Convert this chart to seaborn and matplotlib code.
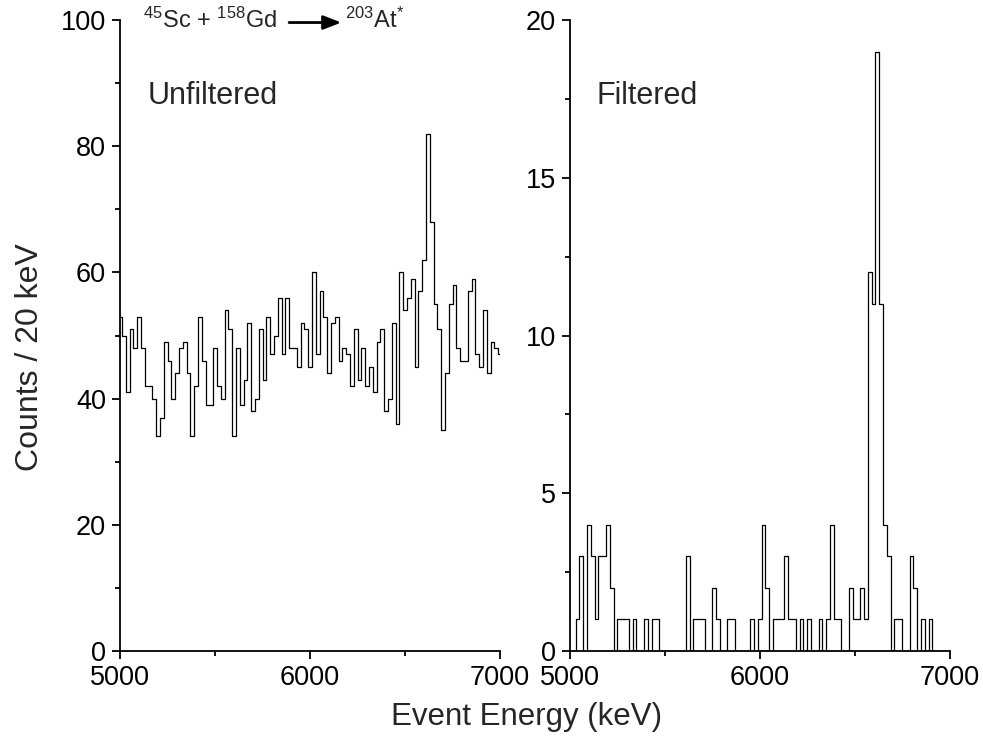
import numpy as np
import matplotlib
matplotlib.use("Agg")
import matplotlib.pyplot as plt
import seaborn as sns

sns.set_theme(style="ticks")
plt.rcParams['font.family'] = ['Liberation Sans', 'DejaVu Sans']
plt.rcParams['mathtext.fontset'] = 'custom'
plt.rcParams['mathtext.rm'] = 'Liberation Sans'
plt.rcParams['mathtext.it'] = 'Liberation Sans:italic'

# bin centres (20 keV bins)
energy = np.arange(5000, 7001, 20)

# unfiltered spectrum, counts per bin
unfiltered = [53, 50, 41, 51, 48, 53, 48, 42, 42, 40,
              34, 37, 49, 46, 40, 44, 48, 49, 44, 34,
              42, 53, 46, 39, 39, 48, 42, 40, 54, 51,
              34, 48, 39, 43, 52, 38, 40, 51, 43, 53,
              47, 50, 56, 47, 56, 48, 48, 45, 52, 51,
              45, 60, 47, 57, 53, 44, 52, 53, 46, 48,
              47, 42, 51, 43, 48, 42, 45, 41, 49, 51,
              38, 40, 52, 36, 60, 54, 56, 59, 45, 57,
              62, 82, 68, 55, 51, 35, 44, 55, 58, 48,
              46, 46, 57, 59, 47, 45, 54, 44, 49, 48,
              47]

# filtered spectrum, counts per bin
filtered = [0, 0, 1, 3, 0, 4, 3, 1, 3, 3,
            4, 2, 0, 1, 1, 1, 0, 1, 0, 0,
            1, 0, 1, 1, 0, 0, 0, 0, 0, 0,
            0, 3, 0, 1, 1, 1, 0, 0, 2, 1,
            0, 0, 1, 1, 0, 0, 0, 0, 1, 0,
            1, 4, 2, 0, 1, 1, 1, 3, 1, 1,
            0, 1, 0, 1, 0, 0, 1, 0, 1, 4,
            1, 1, 0, 0, 2, 1, 1, 2, 1, 12,
            11, 19, 11, 4, 3, 0, 1, 1, 0, 0,
            3, 2, 0, 1, 0, 1, 0, 0, 0, 0,
            0]

fig = plt.figure(figsize=(9.83, 7.44), dpi=100)
ax1 = fig.add_axes([120/983, 93/744, 380/983, 631/744])
ax2 = fig.add_axes([570/983, 93/744, 379.5/983, 631/744])

for ax, counts, ymax, major, minor in [(ax1, unfiltered, 100, 20, 10),
                                       (ax2, filtered, 20, 5, 2.5)]:
    sns.lineplot(x=energy, y=counts, ax=ax, color='black', linewidth=0.9,
                 drawstyle='steps-mid', legend=False)
    ax.set_xlim(5000, 7000)
    ax.set_ylim(0, ymax)
    ax.set_xticks([5000, 6000, 7000])
    ax.set_xticks([5500, 6500], minor=True)
    ax.set_yticks(np.arange(0, ymax + 1, major))
    ax.set_yticks(np.arange(minor, ymax, major), minor=True)
    for s in ['top', 'right']:
        ax.spines[s].set_visible(False)
    for s in ['left', 'bottom']:
        ax.spines[s].set_linewidth(1.3)
        ax.spines[s].set_color('black')
    ax.tick_params(which='major', direction='out', length=6, width=1.3,
                   labelsize=19.5, colors='black', pad=4)
    ax.tick_params(which='minor', direction='out', length=3.5, width=1.3,
                   colors='black')
    ax.set_xlabel('')
    ax.set_ylabel('')
    ax.set_facecolor('white')

ax1.text(5147, 88, 'Unfiltered', fontsize=22, va='center', ha='left')
ax2.text(5142, 17.6, 'Filtered', fontsize=22, va='center', ha='left')

# reaction label
ax1.text(5121, 98.7, r'$^{45}$Sc + $^{158}$Gd', fontsize=17, va='baseline',
         ha='left', clip_on=False)
ax1.annotate('', xy=(6165, 99.6), xytext=(5890, 99.6),
             arrowprops=dict(arrowstyle='-|>,head_length=0.9,head_width=0.35',
                             color='black', lw=2, shrinkA=0, shrinkB=0),
             annotation_clip=False)
ax1.text(6185, 98.7, r'$^{203}$At$^{*}$', fontsize=17, va='baseline',
         ha='left', clip_on=False)

fig.text(30/983, 1 - 357/744, 'Counts / 20 keV', rotation=90, fontsize=23,
         ha='center', va='center')
fig.text(527/983, 1 - 717/744, 'Event Energy (keV)', fontsize=22.5,
         ha='center', va='center')

fig.savefig('out.png', dpi=100, facecolor='white')
